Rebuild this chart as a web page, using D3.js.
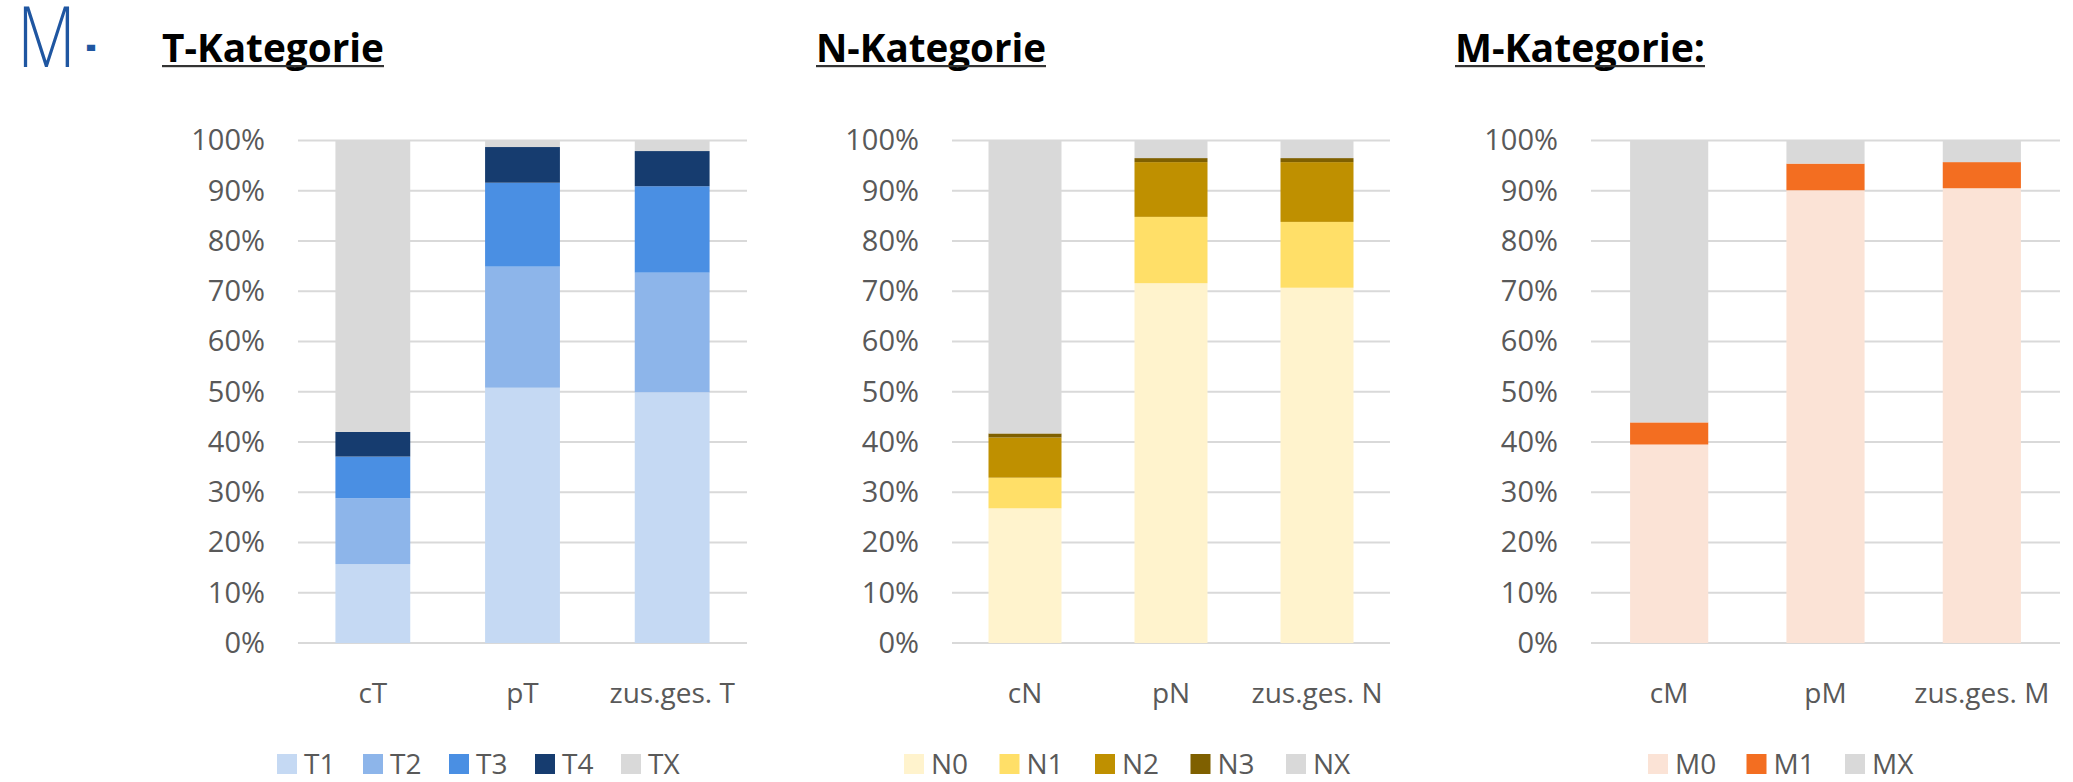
<!DOCTYPE html>
<html>
<head>
<meta charset="utf-8">
<script src="https://cdn.jsdelivr.net/npm/d3@7"></script>
<style>
  html, body { margin: 0; padding: 0; background: #fff; }
  svg { display: block; }
  text { font-family: "Open Sans", "Noto Sans", "DejaVu Sans", sans-serif; }
</style>
</head>
<body>
<svg id="chart" width="2073" height="782"></svg>
<script>
// ---- Data: share of patients per TNM stage (percent) ----
const tCategories = ["cT", "pT", "zus.ges. T"];
const tKeys = ["T1", "T2", "T3", "T4", "TX"];
const tT1 = [15.7, 50.8, 49.9];
const tT2 = [13.1, 24.1, 23.8];
const tT3 = [8.3, 16.7, 17.2];
const tT4 = [4.9, 7.1, 7.0];
const tTX = [58.0, 1.3, 2.1];
const tColors = ["#c5d9f3", "#8db5ea", "#4a8fe3", "#163c6f", "#d9d9d9"];

const nCategories = ["cN", "pN", "zus.ges. N"];
const nKeys = ["N0", "N1", "N2", "N3", "NX"];
const nN0 = [26.8, 71.6, 70.7];
const nN1 = [6.1, 13.2, 13.1];
const nN2 = [8.0, 10.9, 11.9];
const nN3 = [0.8, 0.8, 0.8];
const nNX = [58.3, 3.5, 3.5];
const nColors = ["#fff3cd", "#ffdf68", "#bf9000", "#7f6000", "#d9d9d9"];

const mCategories = ["cM", "pM", "zus.ges. M"];
const mKeys = ["M0", "M1", "MX"];
const mM0 = [39.5, 90.1, 90.5];
const mM1 = [4.4, 5.3, 5.2];
const mMX = [56.1, 4.6, 4.3];
const mColors = ["#fbe3d6", "#f36e21", "#d9d9d9"];

const yTicks = [0, 10, 20, 30, 40, 50, 60, 70, 80, 90, 100];

// ---- Layout ----
const svg = d3.select("#chart");
const yTop = 140.5, yBottom = 643;
const y = d3.scaleLinear().domain([0, 100]).range([yBottom, yTop]);
const textGray = "#595959";
const gridGray = "#d9d9d9";

// Page marker in the top-left corner
svg.append("text")
  .attr("x", 17).attr("y", 67)
  .attr("font-size", 84).attr("font-weight", 300)
  .attr("fill", "#1f56a1")
  .attr("textLength", 59).attr("lengthAdjust", "spacingAndGlyphs")
  .text("M");
svg.append("text")
  .attr("x", 86).attr("y", 61)
  .attr("font-size", 50).attr("font-weight", 700)
  .attr("fill", "#1f56a1")
  .attr("textLength", 10).attr("lengthAdjust", "spacingAndGlyphs")
  .text("-");

const panels = [
  { title: "T-Kategorie", titleWidth: 222, categories: tCategories, keys: tKeys,
    columns: [tT1, tT2, tT3, tT4, tTX], colors: tColors,
    x0: 298, x1: 747, legendX: 277, legendStep: 86 },
  { title: "N-Kategorie", titleWidth: 230, categories: nCategories, keys: nKeys,
    columns: [nN0, nN1, nN2, nN3, nNX], colors: nColors,
    x0: 952, x1: 1390, legendX: 904, legendStep: 95.5 },
  { title: "M-Kategorie:", titleWidth: 250, categories: mCategories, keys: mKeys,
    columns: [mM0, mM1, mMX], colors: mColors,
    x0: 1591, x1: 2060, legendX: 1648, legendStep: 98.5 }
];

panels.forEach(p => {
  const g = svg.append("g");

  // Title with underline
  const titleX = p.x0 - 136;
  g.append("text")
    .attr("x", titleX).attr("y", 62)
    .attr("font-size", 40).attr("font-weight", 700)
    .attr("fill", "#000")
    .attr("textLength", p.titleWidth).attr("lengthAdjust", "spacingAndGlyphs")
    .text(p.title);
  g.append("rect")
    .attr("x", titleX).attr("y", 65)
    .attr("width", p.titleWidth).attr("height", 2.2)
    .attr("fill", "#333");

  // Scales
  const x = d3.scaleBand()
    .domain(p.categories)
    .range([p.x0, p.x1])
    .paddingInner(0.5).paddingOuter(0.25);
  const color = d3.scaleOrdinal().domain(p.keys).range(p.colors);

  // Gridlines
  g.append("g")
    .selectAll("line")
    .data(yTicks)
    .join("line")
    .attr("x1", p.x0).attr("x2", p.x1)
    .attr("y1", d => y(d)).attr("y2", d => y(d))
    .attr("stroke", gridGray).attr("stroke-width", 2);

  // Y axis labels
  const yAxis = d3.axisLeft(y).tickValues(yTicks).tickFormat(d => d + "%").tickSize(0).tickPadding(0);
  const ya = g.append("g")
    .attr("transform", `translate(${p.x0 - 33},0)`)
    .call(yAxis);
  ya.select(".domain").remove();
  ya.selectAll("text")
    .attr("font-size", 29)
    .attr("font-family", null)
    .attr("fill", textGray);

  // Stacked bars
  const rows = p.categories.map((c, i) => {
    const row = { category: c };
    p.keys.forEach((k, j) => { row[k] = p.columns[j][i]; });
    return row;
  });
  const stacked = d3.stack().keys(p.keys)(rows);
  g.append("g")
    .selectAll("g")
    .data(stacked)
    .join("g")
    .attr("fill", s => color(s.key))
    .selectAll("rect")
    .data(s => s)
    .join("rect")
    .attr("x", d => x(d.data.category))
    .attr("width", x.bandwidth())
    .attr("y", d => y(d[1]))
    .attr("height", d => y(d[0]) - y(d[1]));

  // Category labels
  const xAxis = d3.axisBottom(x).tickSize(0).tickPadding(0);
  const xa = g.append("g")
    .attr("transform", `translate(0,${yBottom})`)
    .call(xAxis);
  xa.select(".domain").remove();
  xa.selectAll("text")
    .attr("font-size", 28)
    .attr("font-family", null)
    .attr("fill", textGray)
    .attr("dy", null)
    .attr("y", 60);

  // Legend
  const lg = g.append("g")
    .selectAll("g")
    .data(p.keys)
    .join("g")
    .attr("transform", (d, i) => `translate(${p.legendX + i * p.legendStep},0)`);
  lg.append("rect")
    .attr("x", 0).attr("y", 754)
    .attr("width", 20).attr("height", 20)
    .attr("fill", d => color(d));
  lg.append("text")
    .attr("x", 27).attr("y", 774)
    .attr("font-size", 28)
    .attr("fill", textGray)
    .text(d => d);
});
</script>
</body>
</html>
